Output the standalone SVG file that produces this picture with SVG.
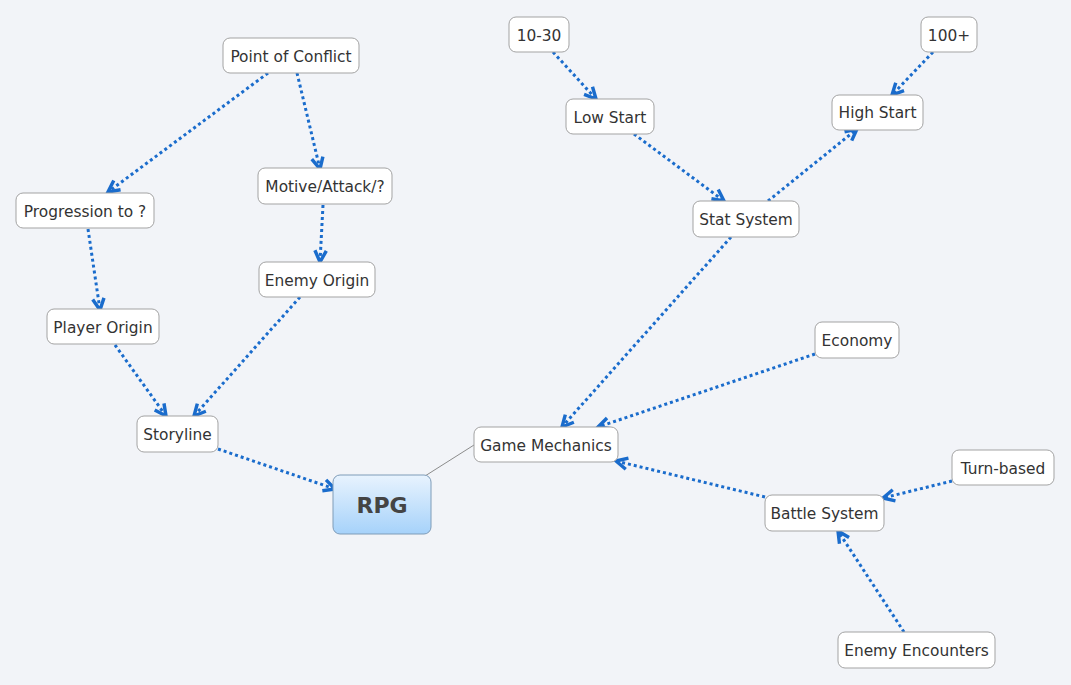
<svg xmlns="http://www.w3.org/2000/svg" width="1071" height="685" viewBox="0 0 1071 685">
<style>
.n rect{fill:#fff;stroke:#a3a3a3;stroke-width:1}
.n text{font-family:"DejaVu Sans","Verdana",sans-serif;font-size:15.4px;fill:#333;text-anchor:middle;dominant-baseline:central}
.e{fill:none;stroke:#1a6ccc;stroke-width:3;stroke-dasharray:3 3;marker-end:url(#ah)}
</style>
<defs>
<marker id="ah" markerUnits="userSpaceOnUse" markerWidth="16" markerHeight="16" refX="11" refY="6" orient="auto" viewBox="0 0 14 12">
<path d="M1,1 L11,6 L1,11" fill="none" stroke="#1a6ccc" stroke-width="3" stroke-linejoin="miter"/>
</marker>
<linearGradient id="rg" x1="0" y1="0" x2="0" y2="1">
<stop offset="0" stop-color="#e8f3fe"/>
<stop offset="1" stop-color="#a6d2fa"/>
</linearGradient>
</defs>
<rect width="1071" height="685" fill="#f2f4f8"/>
<g id="connectors">
<line x1="425" y1="476" x2="474" y2="445" stroke="#8c8c8c" stroke-width="1"/>
<path class="e" d="M268,73 L108,192"/>
<path class="e" d="M297,73 L320,169"/>
<path class="e" d="M323,205 L320,262"/>
<path class="e" d="M88,229 L100,310"/>
<path class="e" d="M300,297 L194,416"/>
<path class="e" d="M115,345 L166,416"/>
<path class="e" d="M218,449 L335,489"/>
<path class="e" d="M731,237 L562,427"/>
<path class="e" d="M815,354 L598,427"/>
<path class="e" d="M765,497 L616,461"/>
<path class="e" d="M952,481 L883,498"/>
<path class="e" d="M904,632 L838,531"/>
<path class="e" d="M553,52 L596,99"/>
<path class="e" d="M634,134 L724,201"/>
<path class="e" d="M768,201 L857,129"/>
<path class="e" d="M933,52 L892,95"/>
</g>
<g id="rpg"><rect x="333" y="475" width="98" height="59" rx="7" fill="url(#rg)" stroke="#7f9cb8" stroke-width="1"/><text x="382" y="505" font-family="DejaVu Sans,Verdana,sans-serif" font-size="22" font-weight="bold" fill="#444" text-anchor="middle" dominant-baseline="central">RPG</text></g>
<g id="point-of-conflict" class="n"><rect x="223" y="38" width="136" height="35" rx="7"/><text x="291" y="56.5">Point of Conflict</text></g>
<g id="progression" class="n"><rect x="16" y="193" width="138" height="35" rx="7"/><text x="85" y="211.5">Progression to ?</text></g>
<g id="motive" class="n"><rect x="258" y="168" width="134" height="36" rx="7"/><text x="325" y="186.5">Motive/Attack/?</text></g>
<g id="enemy-origin" class="n"><rect x="259" y="262" width="116" height="35" rx="7"/><text x="317" y="280.5">Enemy Origin</text></g>
<g id="player-origin" class="n"><rect x="47" y="309" width="112" height="35" rx="7"/><text x="103" y="327.5">Player Origin</text></g>
<g id="storyline" class="n"><rect x="137" y="416" width="81" height="36" rx="7"/><text x="177.5" y="434.5">Storyline</text></g>
<g id="game-mechanics" class="n"><rect x="474" y="427" width="144" height="35" rx="7"/><text x="546" y="445.5">Game Mechanics</text></g>
<g id="n10-30" class="n"><rect x="509" y="17" width="60" height="35" rx="7"/><text x="539" y="35.5">10-30</text></g>
<g id="low-start" class="n"><rect x="566" y="99" width="88" height="35" rx="7"/><text x="610" y="117.5">Low Start</text></g>
<g id="n100plus" class="n"><rect x="921" y="17" width="56" height="35" rx="7"/><text x="949" y="35.5">100+</text></g>
<g id="high-start" class="n"><rect x="832" y="95" width="91" height="35" rx="7"/><text x="877.5" y="112.5">High Start</text></g>
<g id="stat-system" class="n"><rect x="693" y="201" width="106" height="36" rx="7"/><text x="746" y="219.5">Stat System</text></g>
<g id="economy" class="n"><rect x="815" y="322" width="84" height="36" rx="7"/><text x="857" y="340.5">Economy</text></g>
<g id="turn-based" class="n"><rect x="952" y="450" width="102" height="35" rx="7"/><text x="1003" y="468.5">Turn-based</text></g>
<g id="battle-system" class="n"><rect x="765" y="495" width="119" height="36" rx="7"/><text x="824.5" y="513.5">Battle System</text></g>
<g id="enemy-encounters" class="n"><rect x="838" y="632" width="157" height="36" rx="7"/><text x="916.5" y="650.5">Enemy Encounters</text></g>
</svg>
